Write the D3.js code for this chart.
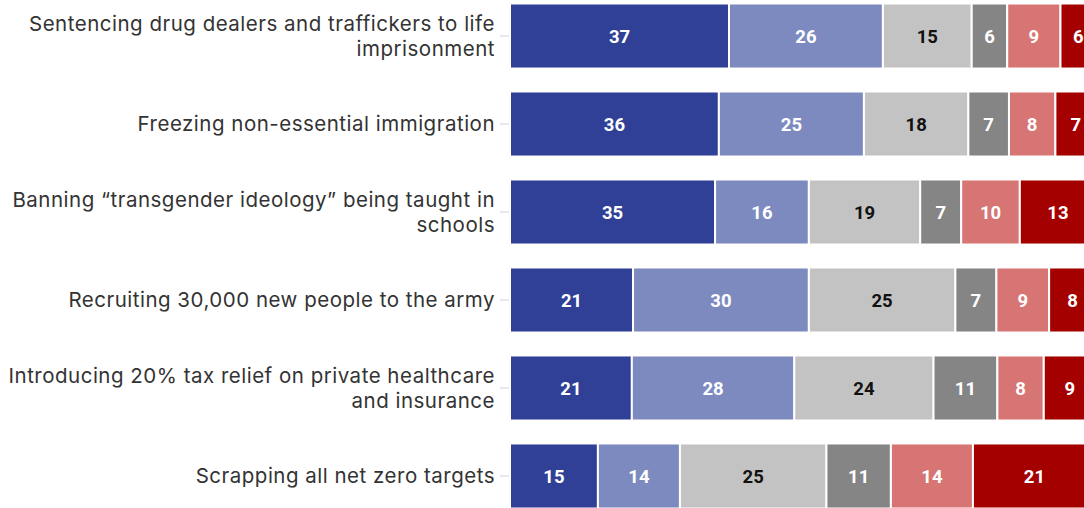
<!DOCTYPE html>
<html><head><meta charset="utf-8">
<script src="https://cdn.jsdelivr.net/npm/d3@7"></script>
<style>
html,body{margin:0;padding:0;background:#fff;overflow:hidden}
svg{display:block}
</style></head>
<body>
<svg id="chart" width="1084" height="508"></svg>
<script>
const categories = [
  "Sentencing drug dealers and traffickers to life imprisonment",
  "Freezing non-essential immigration",
  "Banning \u201ctransgender ideology\u201d being taught in schools",
  "Recruiting 30,000 new people to the army",
  "Introducing 20% tax relief on private healthcare and insurance",
  "Scrapping all net zero targets"
];
const seriesKeys = ["s1","s2","s3","s4","s5","s6"];
const s1 = [37,36,35,21,21,15];
const s2 = [26,25,16,30,28,14];
const s3 = [15,18,19,25,24,25];
const s4 = [6,7,7,7,11,11];
const s5 = [9,8,10,9,8,14];
const s6 = [6,7,13,8,9,21];
const colors = ["#2f4096","#7d8abf","#c3c3c3","#858585","#d77474","#a40000"];
const labelColors = ["#fff","#fff","#111","#fff","#fff","#fff"];

const seriesArrays = [s1,s2,s3,s4,s5,s6];
const rows = categories.map((c,i)=>{
  const o = {category:c};
  seriesKeys.forEach((k,j)=>o[k]=seriesArrays[j][i]);
  return o;
});

const svg = d3.select("#chart");
const x = d3.scaleLinear().domain([0,1]).range([510,1096]);
const y = d3.scaleBand().domain(categories).range([3.5,508.5]).paddingInner(0.261).paddingOuter(0);

const stack = d3.stack().keys(seriesKeys).offset(d3.stackOffsetExpand);
const stacked = stack(rows);

// axis ticks
svg.append("g").selectAll("line").data(categories).join("line")
  .attr("x1",500).attr("x2",x(1)).attr("y1",d=>y(d)+y.bandwidth()/2).attr("y2",d=>y(d)+y.bandwidth()/2)
  .attr("stroke","#e2e2e2").attr("stroke-width",1.5);

const g = svg.append("g");
stacked.forEach((layer,j)=>{
  const lg = g.append("g");
  lg.selectAll("rect").data(layer).join("rect")
    .attr("x",d=>x(d[0])).attr("width",d=>x(d[1])-x(d[0]))
    .attr("y",d=>y(d.data.category)).attr("height",y.bandwidth())
    .attr("fill",colors[j]).attr("stroke","#fff").attr("stroke-width",2);
  lg.selectAll("text").data(layer).join("text")
    .attr("x",d=>(x(d[0])+x(d[1]))/2)
    .attr("y",d=>y(d.data.category)+y.bandwidth()/2)
    .attr("dy","0.36em").attr("text-anchor","middle")
    .attr("font-family","Roboto, sans-serif").attr("font-weight","bold").attr("font-size",18.5)
    .attr("fill",labelColors[j])
    .text(d=>d.data[layer.key]);
});

// category labels with wrapping
const lab = svg.append("g").selectAll("text").data(categories).join("text")
  .attr("x",495).attr("text-anchor","end")
  .attr("font-family","Inter, sans-serif").attr("font-size",20.5)
  .attr("letter-spacing","0.5px").attr("fill","#333");
lab.each(function(d){
  const t = d3.select(this);
  const words = d.split(" ");
  const lines = [];
  let line = [];
  const tmp = t.append("tspan");
  words.forEach(w=>{
    line.push(w);
    tmp.text(line.join(" "));
    if (tmp.node().getComputedTextLength() > 492 && line.length>1){
      line.pop(); lines.push(line.join(" ")); line=[w];
    }
  });
  lines.push(line.join(" "));
  tmp.remove();
  const cy = y(d)+y.bandwidth()/2;
  const lh = 25;
  lines.forEach((l,i)=>{
    t.append("tspan").attr("x",495)
      .attr("y",cy + (i-(lines.length-1)/2)*lh).attr("dy","0.35em").text(l);
  });
});
</script>
</body></html>
